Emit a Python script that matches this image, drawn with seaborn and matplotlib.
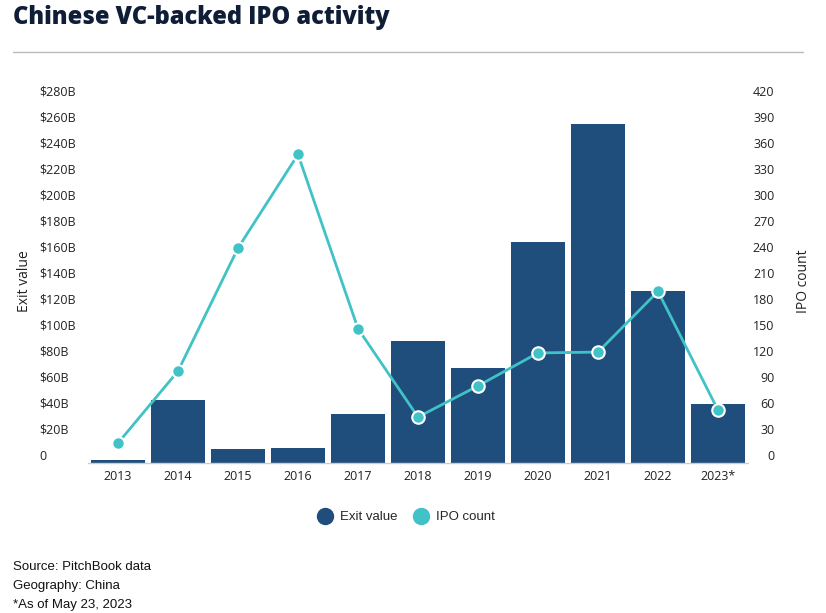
import matplotlib
matplotlib.use("Agg")
import matplotlib.pyplot as plt
from matplotlib.lines import Line2D
from matplotlib.transforms import ScaledTranslation
import seaborn as sns
import pandas as pd

years = ["2013", "2014", "2015", "2016", "2017", "2018", "2019", "2020", "2021", "2022", "2023*"]
exit_value = [2.3, 48.5, 10.8, 11.8, 37.7, 93.8, 73.0, 170.0, 260.8, 132.0, 45.4]
ipo_count = [23, 106, 248, 356, 155, 53, 89, 127, 128, 198, 61]
left_ticks = list(range(0, 281, 20))
left_labels = ["0"] + [f"${v}B" for v in left_ticks[1:]]
right_ticks = list(range(0, 421, 30))

BAR = "#1F4E7D"
LINE = "#40C2C7"
TXT = "#222222"

df = pd.DataFrame({"year": years, "exit": exit_value, "ipo": ipo_count})

sns.set_theme(style="white")
plt.rcParams["font.family"] = ["Open Sans", "DejaVu Sans"]

fig = plt.figure(figsize=(8.26, 6.13), dpi=100)
ax = fig.add_axes([88/826, 1-463/613, (748-88)/826, (463-99)/613])

sns.barplot(data=df, x="year", y="exit", color=BAR, saturation=1, width=0.9, ax=ax,
            linewidth=0, edgecolor=BAR)
ax.set_ylim(0, 280)
ax.set_xlim(-0.5, 10.5)
ax.set_yticks(left_ticks)
ax.set_yticklabels(left_labels)
ax.set_xlabel("")
ax.set_ylabel("Exit value", fontsize=10, color=TXT, labelpad=0)
ax.yaxis.set_label_coords(-56/660, 0.5)
for s in ["top", "right", "left"]:
    ax.spines[s].set_visible(False)
ax.spines["bottom"].set_color("#cccccc")
ax.spines["bottom"].set_linewidth(1)
ax.tick_params(axis="y", length=0, pad=35, labelsize=9, labelcolor=TXT)
ax.tick_params(axis="x", length=0, pad=5, labelsize=9, labelcolor=TXT)
for lab in ax.get_yticklabels():
    lab.set_horizontalalignment("left")
    lab.set_transform(lab.get_transform() + ScaledTranslation(0, 8/100, fig.dpi_scale_trans))

ax2 = ax.twinx()
sns.pointplot(data=df, x="year", y="ipo", color=LINE, ax=ax2, markers="o",
              markersize=9, linewidth=2, markeredgecolor="white", markeredgewidth=1.5)
ax2.set_ylim(0, 420)
ax2.set_xlim(-0.5, 10.5)
ax2.set_yticks(right_ticks)
ax2.set_yticklabels([str(v) for v in right_ticks])
ax2.set_ylabel("IPO count", fontsize=10, color=TXT)
ax2.yaxis.set_label_coords(1 + 48/660, 0.5)
for s in ["top", "right", "left", "bottom"]:
    ax2.spines[s].set_visible(False)
ax2.tick_params(axis="y", length=0, pad=19, labelsize=9, labelcolor=TXT)
for lab in ax2.get_yticklabels():
    lab.set_horizontalalignment("right")
    lab.set_transform(lab.get_transform() + ScaledTranslation(0, 8/100, fig.dpi_scale_trans))
ax.grid(False)
ax2.grid(False)

fig.text(13/826, 1-18/613, "Chinese VC-backed IPO activity", fontsize=17, fontweight="heavy",
         color="#0F1E36", va="center", ha="left")
fig.add_artist(Line2D([13/826, 803/826], [1-52/613, 1-52/613], color="#bbbbbb", linewidth=1))

handles = [Line2D([], [], marker="o", linestyle="", markersize=11.5, color=BAR),
           Line2D([], [], marker="o", linestyle="", markersize=11.5, color=LINE)]
fig.legend(handles, ["Exit value", "IPO count"], loc="center", bbox_to_anchor=(406/826, 1-517/613),
           ncol=2, frameon=False, prop={"family": "Liberation Sans", "size": 9.5},
           handletextpad=0.5, columnspacing=1.2, handlelength=1.2)

for i, t in enumerate(["Source: PitchBook data", "Geography: China", "*As of May 23, 2023"]):
    fig.text(13/826, 1-(567+19*i)/613, t, fontsize=9.5, family="Liberation Sans",
             color="#111111", va="center", ha="left")

fig.savefig("out.png", dpi=100)
